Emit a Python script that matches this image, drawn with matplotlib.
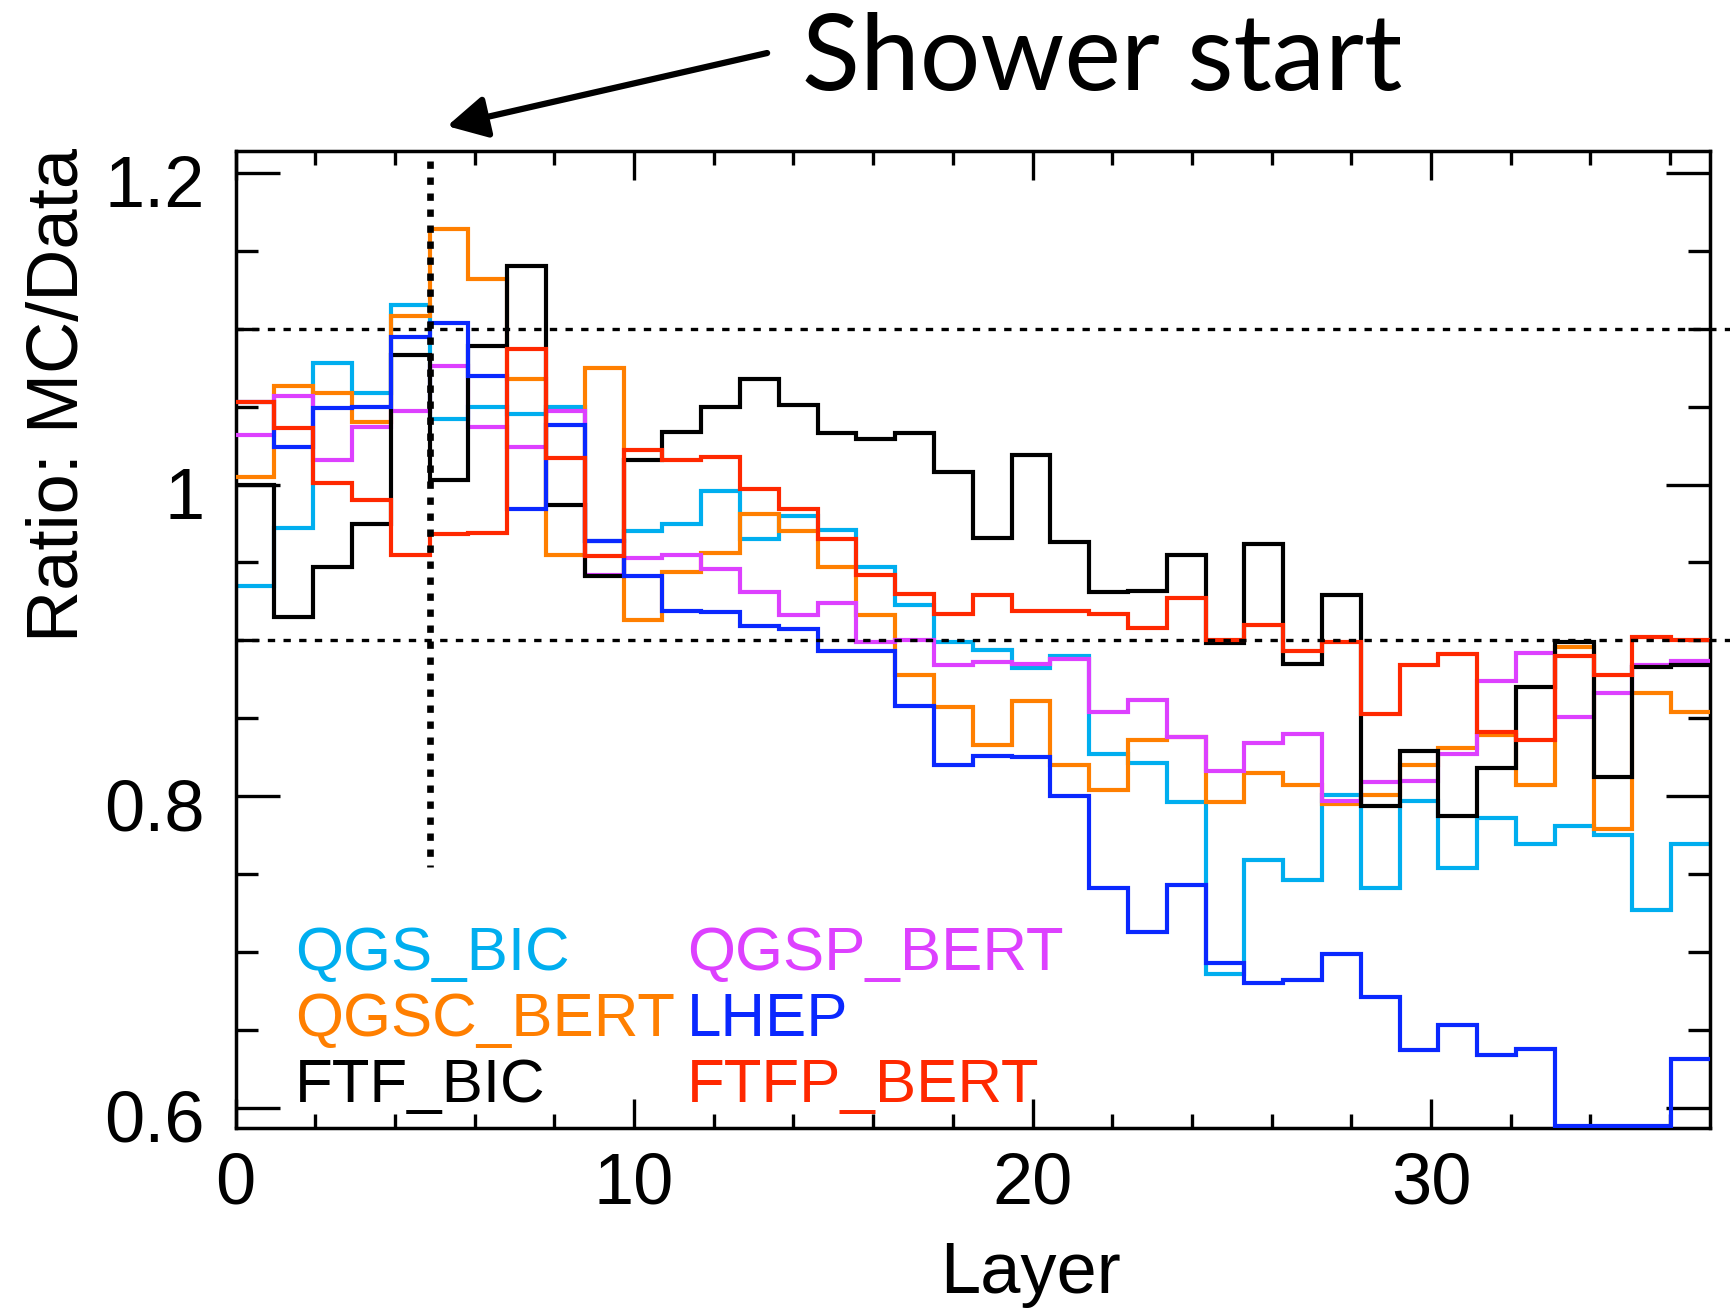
import matplotlib
matplotlib.use('Agg')
import matplotlib.pyplot as plt
import numpy as np
from matplotlib.ticker import MultipleLocator, FuncFormatter
from matplotlib.transforms import ScaledTranslation

plt.rcParams['font.family'] = ['Liberation Sans', 'DejaVu Sans']

# ---------------- data (38 layers spanning 0..37) ----------------
x_range = (0.0, 37.0)
n_layers = 38

qgs_bic = [0.935, 0.972, 1.078, 1.059, 1.115, 1.042, 1.050, 1.045, 1.050, 0.964,
           0.970, 0.975, 0.996, 0.965, 0.980, 0.971, 0.947, 0.923, 0.899, 0.894,
           0.882, 0.890, 0.827, 0.821, 0.796, 0.686, 0.759, 0.746, 0.801, 0.741,
           0.797, 0.754, 0.786, 0.769, 0.781, 0.775, 0.727, 0.769]
qgsc_bert = [1.005, 1.063, 1.059, 1.040, 1.108, 1.164, 1.132, 1.068, 0.955, 1.075,
             0.913, 0.944, 0.956, 0.981, 0.970, 0.947, 0.916, 0.878, 0.857, 0.833,
             0.861, 0.820, 0.804, 0.836, 0.838, 0.796, 0.815, 0.807, 0.795, 0.801,
             0.820, 0.831, 0.839, 0.807, 0.896, 0.779, 0.866, 0.854]
ftf_bic = [1.000, 0.915, 0.947, 0.975, 1.083, 1.003, 1.089, 1.140, 0.987, 0.941,
           1.016, 1.034, 1.050, 1.068, 1.051, 1.033, 1.029, 1.033, 1.008, 0.966,
           1.019, 0.963, 0.931, 0.932, 0.955, 0.898, 0.962, 0.885, 0.929, 0.794,
           0.829, 0.787, 0.818, 0.870, 0.899, 0.812, 0.883, 0.884]
qgsp_bert = [1.032, 1.057, 1.016, 1.037, 1.047, 1.076, 1.037, 1.024, 1.047, 0.942,
             0.953, 0.955, 0.946, 0.931, 0.916, 0.924, 0.899, 0.900, 0.884, 0.886,
             0.885, 0.888, 0.854, 0.862, 0.838, 0.816, 0.834, 0.840, 0.797, 0.809,
             0.810, 0.827, 0.874, 0.892, 0.851, 0.866, 0.884, 0.887]
lhep = [1.053, 1.024, 1.049, 1.050, 1.095, 1.104, 1.070, 0.984, 1.038, 0.964,
        0.941, 0.919, 0.918, 0.909, 0.907, 0.893, 0.893, 0.858, 0.820, 0.826,
        0.825, 0.800, 0.741, 0.713, 0.743, 0.693, 0.680, 0.682, 0.699, 0.671,
        0.637, 0.653, 0.634, 0.638, 0.588, 0.588, 0.588, 0.631]
ftfp_bert = [1.053, 1.036, 1.001, 0.990, 0.955, 0.968, 0.969, 1.087, 1.017, 0.954,
             1.022, 1.016, 1.018, 0.997, 0.984, 0.965, 0.942, 0.930, 0.917, 0.929,
             0.919, 0.919, 0.917, 0.908, 0.927, 0.900, 0.910, 0.893, 0.899, 0.853,
             0.884, 0.891, 0.841, 0.836, 0.890, 0.878, 0.902, 0.900]

names = ["QGS_BIC", "QGSC_BERT", "FTF_BIC", "QGSP_BERT", "LHEP", "FTFP_BERT"]
colors = {"QGS_BIC": "#00AEEF", "QGSC_BERT": "#FF7F00", "FTF_BIC": "#000000",
          "QGSP_BERT": "#DD40FF", "LHEP": "#0A28FF", "FTFP_BERT": "#FF2800"}
values = {"QGS_BIC": qgs_bic, "QGSC_BERT": qgsc_bert, "FTF_BIC": ftf_bic,
          "QGSP_BERT": qgsp_bert, "LHEP": lhep, "FTFP_BERT": ftfp_bert}
draw_order = ["QGS_BIC", "QGSC_BERT", "QGSP_BERT", "FTF_BIC", "LHEP", "FTFP_BERT"]

band_levels = [1.1, 0.9]
shower_start = 4.89
xticks_major = 10
yticks_major = 0.2

# ---------------- figure ----------------
W, H = 1730, 1308
fig = plt.figure(figsize=(W / 100, H / 100), dpi=100)
L, R, T, B = 235.5, 1710, 150.7, 1128
ax = fig.add_axes([L / W, 1 - B / H, (R - L) / W, (B - T) / H])

edges = np.linspace(x_range[0], x_range[1], n_layers + 1)
for i, nm in enumerate(draw_order):
    ax.stairs(values[nm], edges, baseline=None, color=colors[nm], lw=3.0,
              zorder=2 + i)

ax.set_xlim(*x_range)
ax.set_ylim(0.587, 1.2143)

for yv in band_levels:
    ax.plot([0, 37.65], [yv, yv], color='k', lw=2.4, dashes=(2.2, 2.5),
            clip_on=False, zorder=10)
ax.plot([shower_start, shower_start], [1.208, 0.7545], color='k', lw=4.8,
        dashes=(1.1, 1.3), clip_on=False, zorder=11)

ax.xaxis.set_major_locator(MultipleLocator(xticks_major))
ax.xaxis.set_minor_locator(MultipleLocator(2))
ax.yaxis.set_major_locator(MultipleLocator(yticks_major))
ax.yaxis.set_minor_locator(MultipleLocator(0.05))
ax.yaxis.set_major_formatter(FuncFormatter(lambda v, p: '%g' % round(v, 3)))
ax.tick_params(which='both', direction='in', top=True, right=True, width=2.4)
ax.tick_params(axis='x', which='major', length=21, pad=17, labelsize=52)
ax.tick_params(axis='x', which='minor', length=10)
ax.tick_params(axis='y', which='major', length=32, pad=22, labelsize=52)
ax.tick_params(axis='y', which='minor', length=15.5)
for s in ax.spines.values():
    s.set_linewidth(2.5)

for lbl in ax.get_yticklabels():
    lbl.set_transform(lbl.get_transform() + ScaledTranslation(0, -8 / 100, fig.dpi_scale_trans))

# legend as coloured text
leg_cols = [295, 687]
leg_rows = [970, 1036, 1102]
leg_layout = [["QGS_BIC", "QGSC_BERT", "FTF_BIC"], ["QGSP_BERT", "LHEP", "FTFP_BERT"]]
for ci, col in enumerate(leg_layout):
    for ri, nm in enumerate(col):
        fig.text(leg_cols[ci] / W, 1 - leg_rows[ri] / H, nm, color=colors[nm],
                 fontsize=44.5, ha='left', va='baseline')

# axis labels
fig.text(78 / W, 1 - 395 / H, 'Ratio: MC/Data', rotation=90, rotation_mode='anchor',
         fontsize=52, ha='center', va='baseline')
fig.text(940 / W, 1 - 1293 / H, 'Layer', fontsize=52, ha='left', va='baseline')

# title + arrow
fig.text(802 / W, 1 - 90 / H, 'Shower start', family=['Lato', 'DejaVu Sans'],
         fontsize=77, ha='left', va='baseline')
ax.annotate('', xy=(5.31, 1.2301), xytext=(13.34, 1.277),
            arrowprops=dict(arrowstyle='-|>,head_length=0.6,head_width=0.32',
                            lw=4.5, color='k', mutation_scale=40,
                            shrinkA=0, shrinkB=0),
            annotation_clip=False)

fig.savefig('out.png', dpi=100)
